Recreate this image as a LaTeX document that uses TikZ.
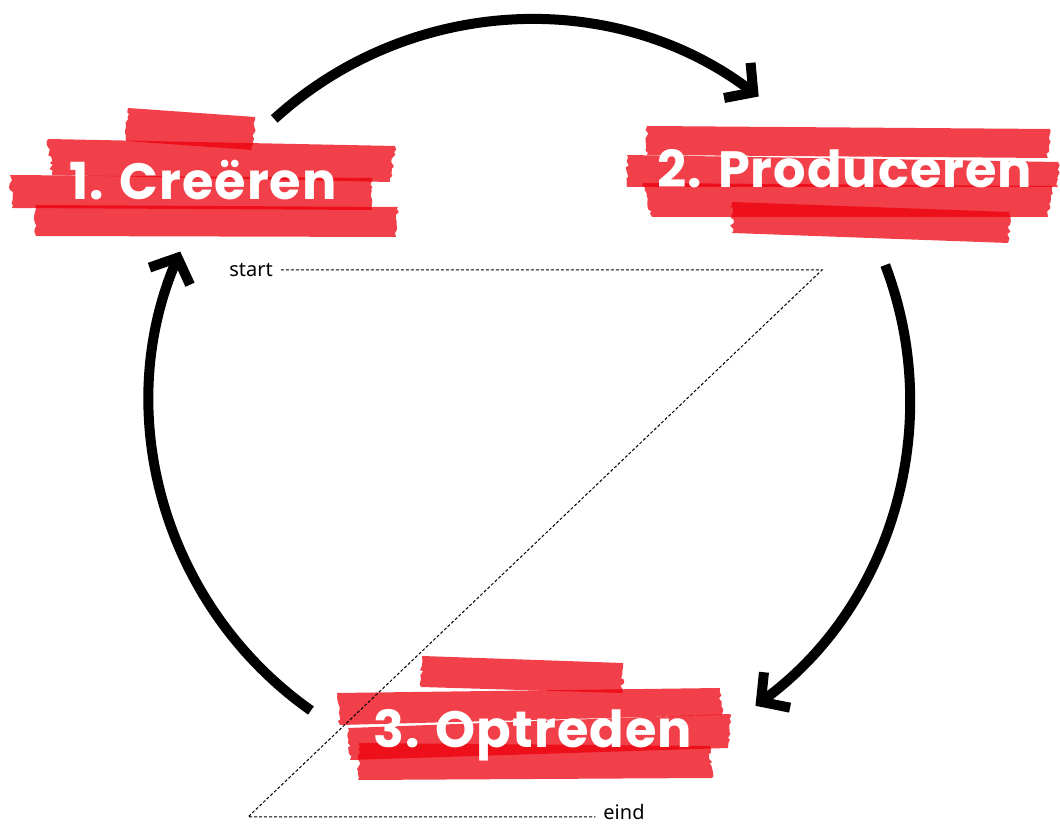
\documentclass[tikz,border=0pt]{standalone}
\usepackage{fontspec}
\setmainfont{Poppins}
\newfontfamily\stagefont{Poppins}[LetterSpace=2]
\newfontfamily\notefont{Noto Sans}
\usetikzlibrary{arrows.meta,decorations.pathmorphing}
\definecolor{tapered}{RGB}{236,0,12}
\newcommand{\tape}[4]{\fill[tape] #1 -- #2 decorate{-- #3} -- #4 decorate{-- #1};}

\begin{document}
\begin{tikzpicture}[x=1pt,y=1pt]
  \tikzstyle{tape}=[fill=tapered,fill opacity=0.75,
                    decoration={random steps,segment length=3pt,amplitude=1.8pt}]
  \tikzstyle{stage}=[text=white,font=\stagefont\bfseries\fontsize{51}{51}\selectfont,anchor=base,inner sep=0pt]
  \tikzstyle{note}=[font=\notefont\fontsize{20}{20}\selectfont,inner sep=8pt]
  \tikzstyle{roundarrow}=[line width=10pt,-{Straight Barb[length=20pt,width=44pt]}]
  \tikzstyle{guide}=[line width=1pt,dash pattern=on 3pt off 2pt]
  \pgfmathsetseed{7}
  \useasboundingbox (0,0) rectangle (1060,824);

  \tape{(128,716)}{(255,707)}{(252,674)}{(126,683)}
  \tape{(48,685)}{(395,678)}{(390,642)}{(52,649)}
  \tape{(10,649)}{(372,646)}{(372,614)}{(12,616)}
  \tape{(35,619)}{(398,617)}{(396,587)}{(36,588)}

  \tape{(647,698)}{(1050,695)}{(1048,666)}{(647,669)}
  \tape{(627,669)}{(1058,662)}{(1058,637)}{(627,637)}
  \tape{(643,641)}{(1052,638)}{(1048,607)}{(652,607)}
  \tape{(732,622)}{(1010,612)}{(1008,581)}{(732,591)}

  \tape{(422,168)}{(623,161)}{(622,131)}{(421,137)}
  \tape{(337,131)}{(720,136)}{(722,109)}{(340,99)}
  \tape{(348,96)}{(730,110)}{(728,76)}{(350,64)}
  \tape{(359,81)}{(710,78)}{(712,46)}{(358,44)}

  \node (creeren) [stage] at (203,624) {1. Creëren};
  \node (produceren) [stage] at (845,636) {2. Produceren};
  \node (optreden) [stage] at (533,76) {3. Optreden};

  \coordinate (hub) at (530,424);
  \coordinate (c1) at ([shift={(132.3:380)}]hub);
  \coordinate (c2) at ([shift={(20.8:380)}]hub);
  \coordinate (c3) at ([shift={(234.8:380)}]hub);
  \draw[roundarrow] (c1) arc[start angle=132.3,end angle=53,radius=380];
  \draw[roundarrow] (c2) arc[start angle=20.8,end angle=-53.6,radius=380];
  \draw[roundarrow] (c3) arc[start angle=234.8,end angle=157,radius=380];

  \node (start) [note] at (251,554) {start};
  \node (eind) [note] at (624,12) {eind};
  \coordinate (turn1) at (822,554);
  \coordinate (turn2) at (248,7);
  \draw[guide] (start.east) -- (turn1) -- (turn2) -- (turn2 -| eind.west);
\end{tikzpicture}
\end{document}
